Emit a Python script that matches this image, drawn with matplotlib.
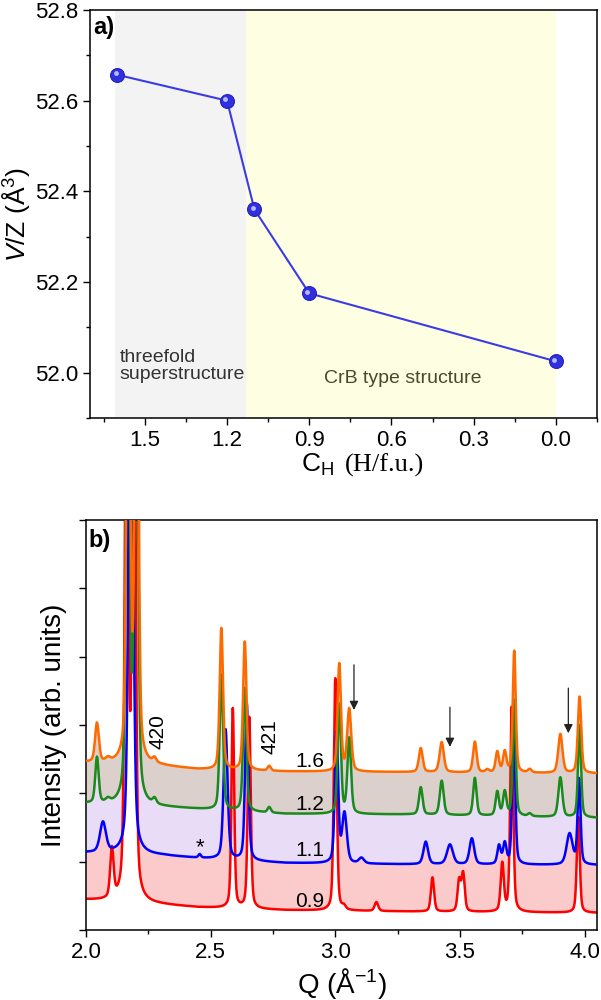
import numpy as np
import matplotlib
matplotlib.use("Agg")
import matplotlib.pyplot as plt
import matplotlib.transforms as mtransforms
from matplotlib.ticker import MultipleLocator, NullFormatter

plt.rcParams['font.family'] = ['Liberation Sans', 'DejaVu Sans']
plt.rcParams['mathtext.fontset'] = 'custom'
plt.rcParams['mathtext.rm'] = 'Liberation Serif'
plt.rcParams['mathtext.it'] = 'Liberation Sans:italic'
plt.rcParams['mathtext.sf'] = 'Liberation Sans'
plt.rcParams['mathtext.default'] = 'regular'

# ---- panel a: cell volume per formula unit vs hydrogen content
c_h = [1.6, 1.2, 1.1, 0.9, 0.0]
v_z = [52.657, 52.600, 52.360, 52.175, 52.025]
superstructure_range = (1.61, 1.13)
crb_range = (1.13, 0.0)

# ---- panel b: diffraction patterns, peaks as (Q, height, fwhm)
labels = ["0.9", "1.1", "1.2", "1.6"]
base_q = [2.0, 2.3, 2.45, 2.8, 3.3, 4.05]
base_09 = [0.44, 0.37, 0.33, 0.29, 0.27, 0.25]
base_11 = [1.13, 1.09, 1.05, 0.98, 0.96, 0.95]
base_12 = [1.85, 1.80, 1.77, 1.70, 1.69, 1.64]
base_16 = [2.45, 2.40, 2.35, 2.32, 2.31, 2.29]

peaks_09 = [(2.104, 0.72, 0.016), (2.163, 9.0, 0.016), (2.192, 9.0, 0.016),
            (2.589, 2.92, 0.013), (2.655, 2.8, 0.014), (3.000, 3.40, 0.014),
            (3.035, 0.05, 0.016), (3.165, 0.13, 0.017), (3.390, 0.50, 0.015),
            (3.497, 0.45, 0.015), (3.513, 0.55, 0.015), (3.670, 0.70, 0.015),
            (3.708, 3.0, 0.014), (3.975, 1.4, 0.014)]
peaks_11 = [(2.068, 0.44, 0.028), (2.180, 9.0, 0.020), (2.456, 0.05, 0.012),
            (2.560, 1.90, 0.019), (2.645, 2.3, 0.016), (3.005, 1.90, 0.016),
            (3.037, 0.72, 0.022), (3.105, 0.08, 0.024), (3.363, 0.33, 0.022),
            (3.460, 0.29, 0.028), (3.548, 0.38, 0.022), (3.657, 0.27, 0.016),
            (3.680, 0.30, 0.016), (3.716, 2.10, 0.014), (3.940, 0.45, 0.028),
            (3.978, 1.25, 0.014)]
peaks_12 = [(2.044, 0.67, 0.016), (2.088, 0.05, 0.020), (2.168, 9.0, 0.016),
            (2.201, 9.0, 0.016), (2.275, 0.08, 0.017), (2.543, 1.98, 0.016),
            (2.637, 1.80, 0.016), (2.735, 0.08, 0.015), (3.016, 1.60, 0.016),
            (3.056, 1.10, 0.017), (3.343, 0.40, 0.017), (3.427, 0.50, 0.018),
            (3.560, 0.55, 0.016), (3.650, 0.35, 0.016), (3.680, 0.35, 0.016),
            (3.718, 1.70, 0.014), (3.780, 0.04, 0.017), (3.903, 0.58, 0.019),
            (3.980, 1.35, 0.014)]
peaks_16 = [(2.044, 0.57, 0.018), (2.088, 0.05, 0.020), (2.170, 9.0, 0.016),
            (2.203, 9.0, 0.016), (2.275, 0.07, 0.017), (2.543, 2.07, 0.016),
            (2.637, 1.88, 0.016), (2.735, 0.07, 0.015), (3.016, 1.57, 0.016),
            (3.056, 0.91, 0.019), (3.343, 0.35, 0.018), (3.427, 0.44, 0.020),
            (3.560, 0.45, 0.017), (3.610, 0.04, 0.017), (3.650, 0.30, 0.016),
            (3.680, 0.30, 0.016), (3.718, 1.78, 0.014), (3.780, 0.05, 0.017),
            (3.903, 0.57, 0.020), (3.980, 1.12, 0.016)]

arrow_q = [3.075, 3.46, 3.935]
arrow_top = [3.88, 3.26, 3.54]
arrow_tip = [3.22, 2.68, 2.88]


def profile(q, peaks, bq, bv):
    y = np.interp(q, bq, bv)
    for c, h, w in peaks:
        g = np.exp(-4 * np.log(2) * ((q - c) / w) ** 2)
        l = 1 / (1 + 4 * ((q - c) / w) ** 2)
        y = y + h * (0.6 * g + 0.4 * l)
    return y


fig = plt.figure(figsize=(6.01, 10), dpi=100)

# ---------------- panel a
ax1 = fig.add_axes([90 / 601, 0.582, 507 / 601, 0.408])
ax1.axvspan(*superstructure_range, color='#f3f3f3', lw=0, zorder=0)
ax1.axvspan(*crb_range, color='#fefee3', lw=0, zorder=0)
ax1.plot(c_h, v_z, '-', color='#3b3be6', lw=1.5, zorder=2)
ax1.plot(c_h, v_z, 'o', ms=10, mfc='#3030e0', mec='#2525b8', mew=0.8, zorder=3)
hl = mtransforms.offset_copy(ax1.transData, fig=fig, x=-1.3, y=1.3, units='points')
ax1.plot(c_h, v_z, 'o', ms=3.5, mfc='#b8b8ff', mec='none', transform=hl, zorder=4)

ax1.set_xlim(1.7, -0.15)
ax1.set_ylim(51.9, 52.8)
ax1.xaxis.set_major_locator(MultipleLocator(0.3))
ax1.xaxis.set_minor_locator(MultipleLocator(0.15))
ax1.yaxis.set_major_locator(MultipleLocator(0.2))
ax1.yaxis.set_minor_locator(MultipleLocator(0.1))
ax1.set_xticks([1.5, 1.2, 0.9, 0.6, 0.3, 0.0])
ax1.set_xticklabels(["1.5", "1.2", "0.9", "0.6", "0.3", "0.0"])
ax1.tick_params(which='major', direction='out', length=5, width=1, labelsize=16)
ax1.tick_params(which='minor', direction='out', length=3, width=1)
ax1.set_ylabel(r"$\mathit{V}$/Z (Å$^{3}$)", fontsize=19, labelpad=2)
# x label: sans "C_H" followed by serif "(H/f.u.)"
fig.text(334 / 601, 0.535, r"C$_{H}$", fontsize=19, ha='right', va='center')
fig.text(345 / 601, 0.535, "(H/f.u.)", fontsize=19, ha='left', va='center',
         family='Liberation Serif')
ax1.text(0.006, 0.956, "a)", transform=ax1.transAxes, fontsize=17,
         fontweight='bold', ha='left', va='center')
ax1.text(1.593, 52.015, "threefold\nsuperstructure", fontsize=14,
         color='#333333', ha='left', va='center', linespacing=1.0)
ax1.text(0.56, 51.987, "CrB type structure", fontsize=14, color='#4a4a2a',
         ha='center', va='center')

# ---------------- panel b
ax2 = fig.add_axes([86 / 601, 0.07, 511 / 601, 0.41])
q = np.linspace(2.0, 4.05, 2051)
y09 = profile(q, peaks_09, base_q, base_09)
y11 = profile(q, peaks_11, base_q, base_11)
y12 = profile(q, peaks_12, base_q, base_12)
y16 = profile(q, peaks_16, base_q, base_16)

ax2.fill_between(q, y09, y11, color='#fbcbcb', lw=0, zorder=1)
ax2.fill_between(q, y11, y12, color='#e8dcf6', lw=0, zorder=1)
ax2.fill_between(q, y12, y16, color='#dbd0cc', lw=0, zorder=1)
ax2.plot(q, y09, color='#ff0000', lw=1.8, zorder=2)
ax2.plot(q, y11, color='#0000ff', lw=1.8, zorder=3)
ax2.plot(q, y12, color='#1a8a1a', lw=1.8, zorder=4)
ax2.plot(q, y16, color='#ff6a00', lw=1.8, zorder=5)

label_y = [0.41, 1.17, 1.83, 2.46]
for lab, ly in zip(labels, label_y):
    ax2.text(2.84, ly, lab, fontsize=15, ha='left', va='center', zorder=6)

ax2.text(2.29, 2.90, "420", fontsize=15, rotation=90, ha='center', va='center')
ax2.text(2.74, 2.83, "421", fontsize=15, rotation=90, ha='center', va='center')
ax2.text(2.456, 1.20, "*", fontsize=16, ha='center', va='center')

for xq, yt, yb in zip(arrow_q, arrow_top, arrow_tip):
    ax2.annotate('', xy=(xq, yb), xytext=(xq, yt),
                 arrowprops=dict(arrowstyle='-|>', color='#222222', lw=0.9,
                                 mutation_scale=13, shrinkA=0, shrinkB=0),
                 zorder=7)

ax2.set_xlim(2.0, 4.05)
ax2.set_ylim(0, 6)
ax2.xaxis.set_major_locator(MultipleLocator(0.5))
ax2.xaxis.set_minor_locator(MultipleLocator(0.25))
ax2.yaxis.set_major_locator(MultipleLocator(1))
ax2.yaxis.set_major_formatter(NullFormatter())
ax2.set_xticks([2.0, 2.5, 3.0, 3.5, 4.0])
ax2.set_xticklabels(["2.0", "2.5", "3.0", "3.5", "4.0"])
ax2.tick_params(which='major', direction='out', length=5, width=1, labelsize=16)
ax2.tick_params(which='minor', direction='out', length=3, width=1)
ax2.set_ylabel("Intensity (arb. units)", fontsize=20, labelpad=5)
ax2.set_xlabel(r"Q (Å$^{-1}$)", fontsize=20, labelpad=2)
ax2.text(0.004, 0.951, "b)", transform=ax2.transAxes, fontsize=17,
         fontweight='bold', ha='left', va='center', zorder=8)

for ax in (ax1, ax2):
    for s in ax.spines.values():
        s.set_linewidth(1.1)

fig.savefig("out.png", dpi=100)
